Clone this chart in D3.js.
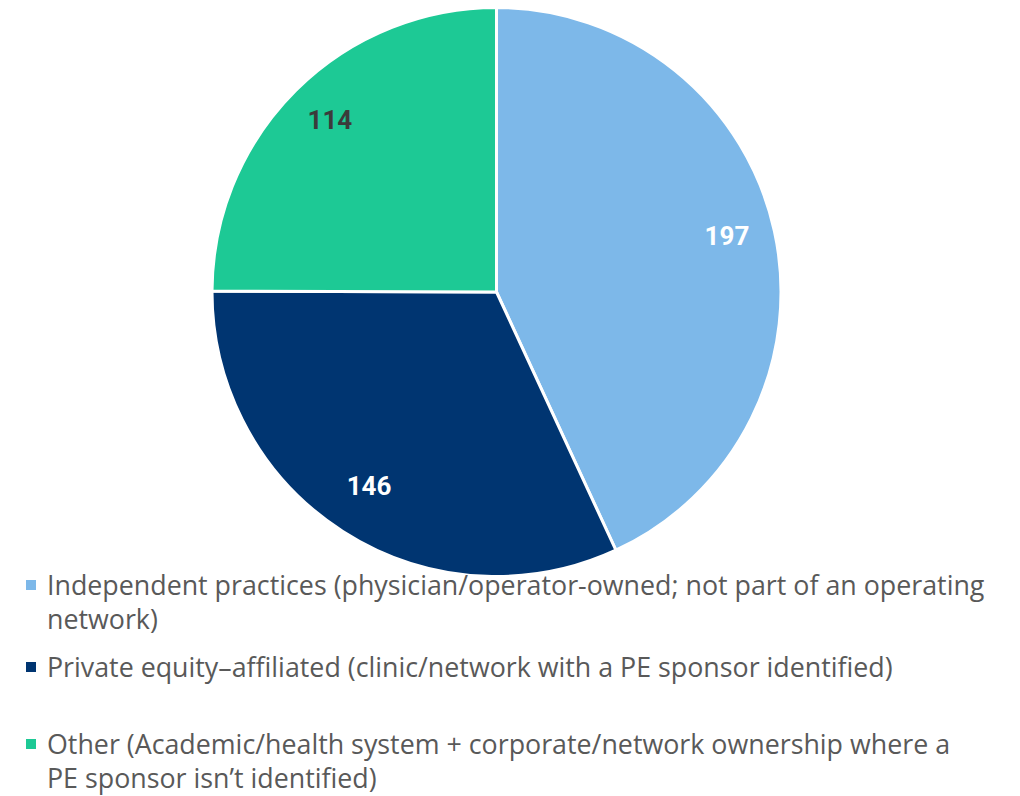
<!DOCTYPE html>
<html>
<head>
<meta charset="utf-8">
<script src="https://cdn.jsdelivr.net/npm/d3@7"></script>
<style>
  body { margin: 0; background: #fff; }
  svg { display: block; }
</style>
</head>
<body>
<svg id="chart"></svg>
<script>
// data
let categorias = [
  "Independent practices (physician/operator-owned; not part of an operating network)",
  "Private equity\u2013affiliated (clinic/network with a PE sponsor identified)",
  "Other (Academic/health system + corporate/network ownership where a PE sponsor isn\u2019t identified)"
];
let valores = [197, 146, 114];
let colores = ["#7db8e9", "#003571", "#1dc995"];
let colorEtiqueta = ["#ffffff", "#ffffff", "#3b3b3b"];
// legend text split the same way as the picture
let lineasLeyenda = [
  ["Independent practices (physician/operator-owned; not part of an operating", "network)"],
  ["Private equity\u2013affiliated (clinic/network with a PE sponsor identified)"],
  ["Other (Academic/health system + corporate/network ownership where a", "PE sponsor isn\u2019t identified)"]
];

let W = 1020, H = 796;
let cx = 496.5, cy = 292, r = 284.5;

let misvg = d3.select("#chart")
  .attr("width", W)
  .attr("height", H);

let pie = d3.pie().sort(null).value(d => d);
let arcos = pie(valores);

let arc = d3.arc().innerRadius(0).outerRadius(r);
let arcEtiqueta = d3.arc().innerRadius(236).outerRadius(236);

let g = misvg.append("g").attr("transform", `translate(${cx},${cy})`);

g.selectAll("path")
  .data(arcos)
  .enter()
  .append("path")
  .attr("d", arc)
  .attr("fill", (d, i) => colores[i])
  .attr("stroke", "#fff")
  .attr("stroke-width", 3)
  .attr("stroke-linejoin", "miter");

g.selectAll("text")
  .data(arcos)
  .enter()
  .append("text")
  .attr("x", d => arcEtiqueta.centroid(d)[0])
  .attr("y", d => arcEtiqueta.centroid(d)[1] - 5)
  .attr("text-anchor", "middle")
  .attr("dominant-baseline", "central")
  .attr("font-family", "Roboto, 'Noto Sans', sans-serif")
  .attr("font-weight", "bold")
  .attr("font-size", 26)
  .attr("fill", (d, i) => colorEtiqueta[i])
  .text(d => d.data);

// legend
let yLeyenda = [584, 666, 743];
let altoLinea = 34.5;

let ley = misvg.append("g")
  .selectAll("g")
  .data(categorias)
  .enter()
  .append("g")
  .attr("transform", (d, i) => `translate(0,${yLeyenda[i]})`);

ley.append("rect")
  .attr("x", 26)
  .attr("y", -4)
  .attr("width", 10)
  .attr("height", 10)
  .attr("fill", (d, i) => colores[i]);

ley.append("text")
  .attr("font-family", "'Open Sans', Roboto, sans-serif")
  .attr("font-size", 26.8)
  .attr("fill", "#595959")
  .each(function(d, i) {
    let t = d3.select(this);
    lineasLeyenda[i].forEach((linea, j) => {
      t.append("tspan")
        .attr("x", 47)
        .attr("y", j * altoLinea)
        .attr("dominant-baseline", "central")
        .text(linea);
    });
  });
</script>
</body>
</html>
